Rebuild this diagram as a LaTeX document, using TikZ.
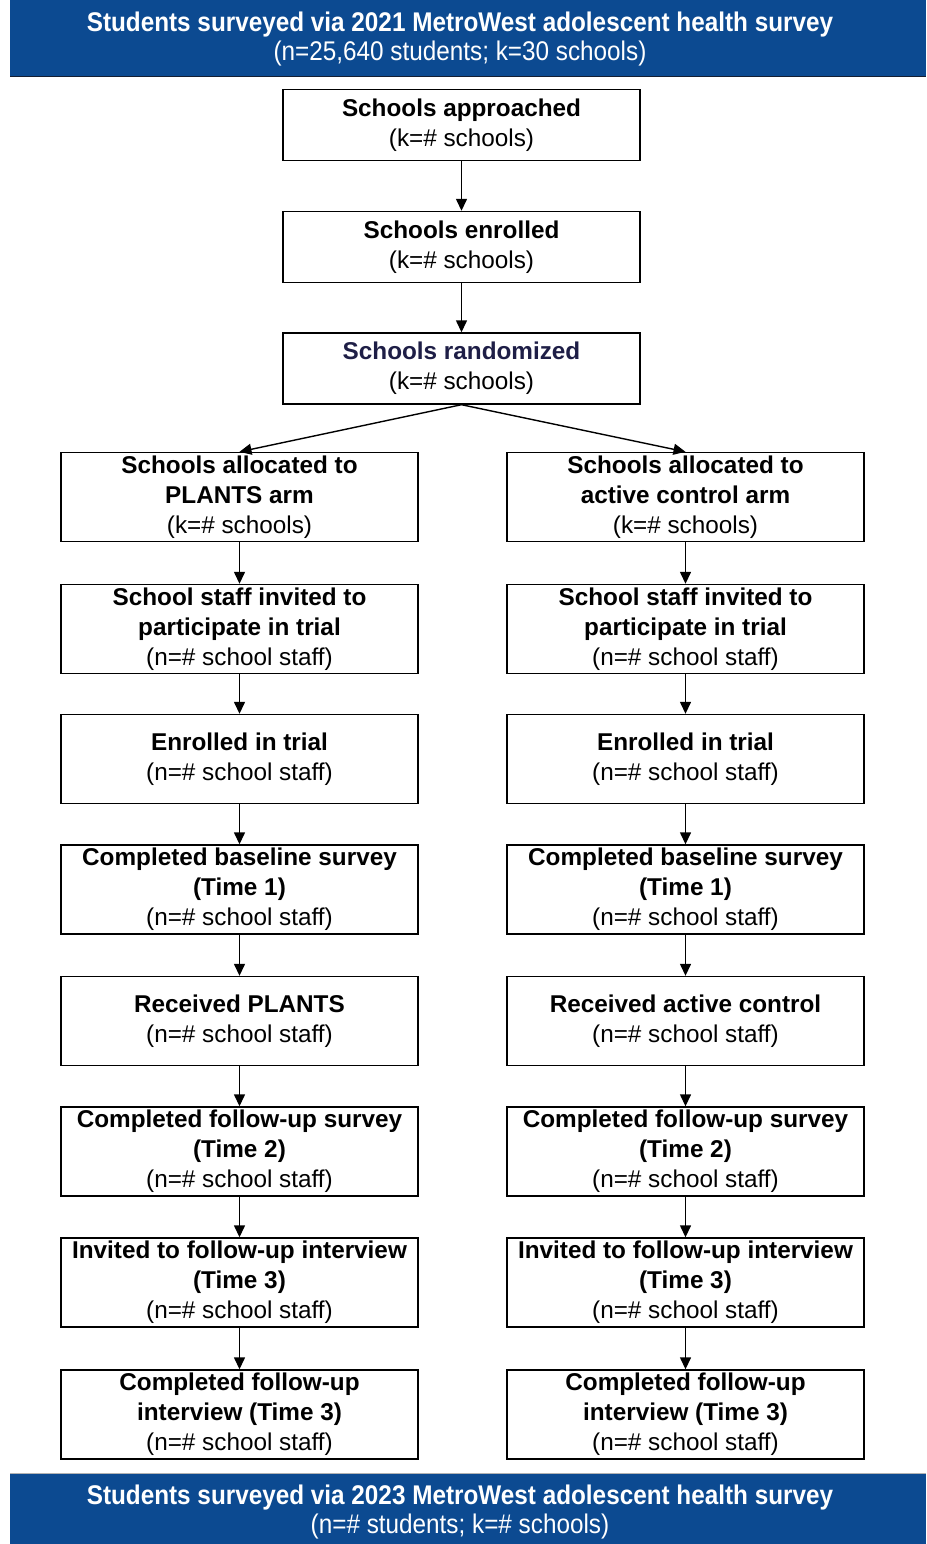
\documentclass[tikz,border=0pt]{standalone}
\usepackage{fontspec}
\setmainfont{Liberation Sans}
\newfontfamily\narrowfont[FakeStretch=0.90]{Liberation Sans}
\usetikzlibrary{arrows.meta}
\definecolor{bannerblue}{RGB}{12,74,145}
\definecolor{bannerdark}{RGB}{20,30,50}
\begin{document}
\begin{tikzpicture}[x=1pt,y=-1pt,
  box/.style={draw=black,line width=1.4pt,fill=white,minimum width=357pt,inner sep=0pt,
    align=center,font=\fontsize{24.3}{30}\selectfont},
  sbox/.style={box,minimum height=71pt},
  tbox/.style={box,minimum height=89pt},
  bannertext/.style={text=white,align=center,font=\narrowfont\bfseries\fontsize{27}{29.5}\selectfont},
  arr/.style={line width=1.4pt,-{Triangle[length=12pt,width=11pt]}}]
\useasboundingbox (0,0) rectangle (926,1544);
% banners
\fill[bannerblue] (10,0) rectangle (926,77);
\draw[bannerdark,line width=1.5pt] (10,76.5) -- (926,76.5);
\node[bannertext] (top) at (460,39)
  {Students surveyed via 2021 MetroWest adolescent health survey\\\mdseries(n=25,640 students; k=30 schools)};
\fill[bannerblue] (10,1473) rectangle (926,1544);
\draw[gray!60,line width=1pt] (10,1473) -- (926,1473);
\node[bannertext] (bot) at (460,1512)
  {Students surveyed via 2023 MetroWest adolescent health survey\\\mdseries(n=\# students; k=\# schools)};
% central boxes
\node[sbox] (appr) at (461.5,125) {\textbf{Schools approached}\\(k=\# schools)};
\node[sbox] (enr) at (461.5,247) {\textbf{Schools enrolled}\\(k=\# schools)};
\node[sbox] (rand) at (461.5,368.5) {\textbf{\color[RGB]{30,30,70}Schools randomized}\\(k=\# schools)};
% left column
\node[tbox] (L1) at (239.5,497) {\textbf{Schools allocated to}\\\textbf{PLANTS arm}\\(k=\# schools)};
\node[tbox] (L2) at (239.5,629) {\textbf{School staff invited to}\\\textbf{participate in trial}\\(n=\# school staff)};
\node[tbox] (L3) at (239.5,759) {\textbf{Enrolled in trial}\\(n=\# school staff)};
\node[tbox] (L4) at (239.5,889.5) {\textbf{Completed baseline survey}\\\textbf{(Time 1)}\\(n=\# school staff)};
\node[tbox] (L5) at (239.5,1021) {\textbf{Received PLANTS}\\(n=\# school staff)};
\node[tbox] (L6) at (239.5,1151.5) {\textbf{Completed follow-up survey}\\\textbf{(Time 2)}\\(n=\# school staff)};
\node[tbox] (L7) at (239.5,1282.5) {\textbf{Invited to follow-up interview}\\\textbf{(Time 3)}\\(n=\# school staff)};
\node[tbox] (L8) at (239.5,1414.5) {\textbf{Completed follow-up}\\\textbf{interview (Time 3)}\\(n=\# school staff)};
% right column
\node[tbox] (R1) at (685.5,497) {\textbf{Schools allocated to}\\\textbf{active control arm}\\(k=\# schools)};
\node[tbox] (R2) at (685.5,629) {\textbf{School staff invited to}\\\textbf{participate in trial}\\(n=\# school staff)};
\node[tbox] (R3) at (685.5,759) {\textbf{Enrolled in trial}\\(n=\# school staff)};
\node[tbox] (R4) at (685.5,889.5) {\textbf{Completed baseline survey}\\\textbf{(Time 1)}\\(n=\# school staff)};
\node[tbox] (R5) at (685.5,1021) {\textbf{Received active control}\\(n=\# school staff)};
\node[tbox] (R6) at (685.5,1151.5) {\textbf{Completed follow-up survey}\\\textbf{(Time 2)}\\(n=\# school staff)};
\node[tbox] (R7) at (685.5,1282.5) {\textbf{Invited to follow-up interview}\\\textbf{(Time 3)}\\(n=\# school staff)};
\node[tbox] (R8) at (685.5,1414.5) {\textbf{Completed follow-up}\\\textbf{interview (Time 3)}\\(n=\# school staff)};
% arrows
\draw[arr] (appr.south) -- (enr.north);
\draw[arr] (enr.south) -- (rand.north);
\draw[arr] (rand.south) -- (L1.north);
\draw[arr] (rand.south) -- (R1.north);
\foreach \c in {L,R}{
  \foreach \a/\b in {1/2,2/3,3/4,4/5,5/6,6/7,7/8}{
    \draw[arr] (\c\a.south) -- (\c\b.north);
  }
}
\end{tikzpicture}
\end{document}
